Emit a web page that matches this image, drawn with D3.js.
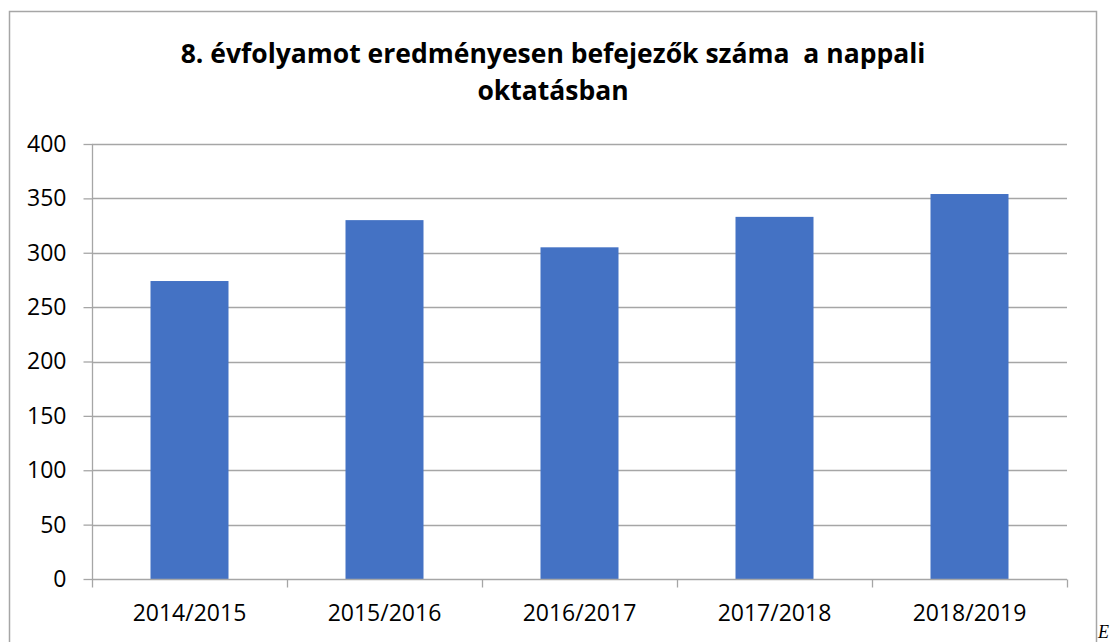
<!DOCTYPE html>
<html>
<head>
<meta charset="utf-8">
<script src="https://cdn.jsdelivr.net/npm/d3@7"></script>
<style>
  body { margin: 0; background: #fff; }
  svg { display: block; }
</style>
</head>
<body>
<div id="chart"></div>
<script>
const categories = ["2014/2015", "2015/2016", "2016/2017", "2017/2018", "2018/2019"];
const values = [274, 330, 305, 333, 354];
const yTicks = [0, 50, 100, 150, 200, 250, 300, 350, 400];
const titleLines = ["8. évfolyamot eredményesen befejezők száma  a nappali", "oktatásban"];

const width = 1117, height = 642;
const plotLeft = 92, plotRight = 1067, plotTop = 144, plotBottom = 579;
const font = "'Open Sans', 'DejaVu Sans', sans-serif";

const svg = d3.select("#chart").append("svg")
    .attr("width", width)
    .attr("height", height);

// chart frame
svg.append("rect")
    .attr("x", 9.5).attr("y", 11.5)
    .attr("width", 1087).attr("height", 700)
    .attr("fill", "none")
    .attr("stroke", "#a6a6a6")
    .attr("stroke-width", 1.5);

const x = d3.scaleBand()
    .domain(categories)
    .range([plotLeft, plotRight])
    .paddingInner(0.6)
    .paddingOuter(0.3);

const y = d3.scaleLinear()
    .domain([0, 400])
    .range([plotBottom, plotTop]);

// gridlines
svg.append("g")
    .selectAll("line")
    .data(yTicks.filter(d => d > 0))
    .join("line")
    .attr("x1", plotLeft).attr("x2", plotRight)
    .attr("y1", d => Math.round(y(d)) + 0.5)
    .attr("y2", d => Math.round(y(d)) + 0.5)
    .attr("stroke", "#a6a6a6")
    .attr("stroke-width", 1.3);

// bars
svg.append("g")
    .selectAll("rect")
    .data(values)
    .join("rect")
    .attr("x", (d, i) => x(categories[i]))
    .attr("y", d => y(d))
    .attr("width", x.bandwidth())
    .attr("height", d => plotBottom - y(d))
    .attr("fill", "#4472c4");

// y axis
const yAxis = svg.append("g")
    .attr("transform", `translate(${plotLeft + 0.5},0)`)
    .call(d3.axisLeft(y).tickValues(yTicks).tickSize(9).tickPadding(17));
yAxis.selectAll("line, path").attr("stroke", "#a6a6a6").attr("stroke-width", 1.3);
yAxis.select(".domain").attr("d", `M0,${plotTop}V${plotBottom}`);
yAxis.selectAll("text")
    .attr("font-family", font)
    .attr("font-size", 23)
    .attr("fill", "#000");

// x axis with ticks at category boundaries
const xAxis = svg.append("g")
    .attr("transform", `translate(0,${plotBottom + 0.5})`);
xAxis.append("line")
    .attr("x1", plotLeft).attr("x2", plotRight)
    .attr("stroke", "#a6a6a6").attr("stroke-width", 1.3);
const bounds = categories.map(c => x(c) - x.step() * x.paddingInner() / 2);
bounds.push(plotRight);
bounds[0] = plotLeft;
xAxis.selectAll(".tk")
    .data(bounds)
    .join("line")
    .attr("class", "tk")
    .attr("x1", d => Math.round(d) + 0.5).attr("x2", d => Math.round(d) + 0.5)
    .attr("y1", 0).attr("y2", 8)
    .attr("stroke", "#a6a6a6").attr("stroke-width", 1.3);
xAxis.selectAll(".lbl")
    .data(categories)
    .join("text")
    .attr("class", "lbl")
    .attr("x", d => x(d) + x.bandwidth() / 2)
    .attr("y", 41)
    .attr("text-anchor", "middle")
    .attr("font-family", font)
    .attr("font-size", 23)
    .text(d => d);

// title
const title = svg.append("g");
title.selectAll("text")
    .data(titleLines)
    .join("text")
    .attr("x", 553)
    .attr("y", (d, i) => 63 + i * 37)
    .attr("text-anchor", "middle")
    .attr("font-family", font)
    .attr("font-weight", "bold")
    .attr("font-size", 26.5)
    .attr("fill", "#000")
    .style("white-space", "pre")
    .text(d => d);

// stray letter at the corner of the page
svg.append("text")
    .attr("x", 1098)
    .attr("y", 638)
    .attr("font-family", "'Liberation Serif', 'DejaVu Serif', serif")
    .attr("font-style", "italic")
    .attr("font-size", 18)
    .text("E");
</script>
</body>
</html>
